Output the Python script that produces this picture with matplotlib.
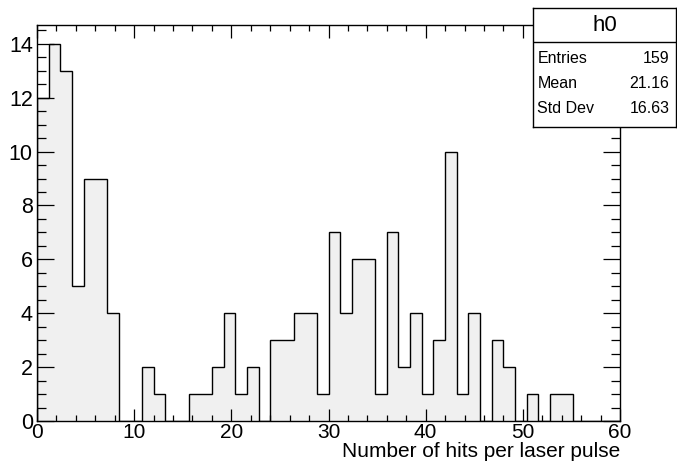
import numpy as np
import matplotlib
matplotlib.use("Agg")
import matplotlib.pyplot as plt
from matplotlib.ticker import MultipleLocator

plt.rcParams["font.family"] = ["Liberation Sans", "DejaVu Sans"]

# 50 bins of width 1.2 between 0 and 60
BIN_EDGES = np.linspace(0, 60, 51)
COUNTS = [12, 14, 13, 5, 9, 9, 4, 0, 0, 2,
          1, 0, 0, 1, 1, 2, 4, 1, 2, 0,
          3, 3, 4, 4, 1, 7, 4, 6, 6, 1,
          7, 2, 4, 1, 3, 10, 1, 4, 0, 3,
          2, 0, 1, 0, 1, 1, 0, 0, 0, 0]
HIST_NAME = "h0"
STATS = [("Entries", "159"), ("Mean", "21.16"), ("Std Dev", "16.63")]
XLABEL = "Number of hits per laser pulse"

W, H = 677, 470
fig = plt.figure(figsize=(W / 100, H / 100), dpi=100)
ax = fig.add_axes([37 / W, 1 - 421 / H, (620 - 37) / W, (421 - 25) / H])

ax.stairs(COUNTS, BIN_EDGES, fill=True, facecolor="#f0f0f0", edgecolor="none")
ax.stairs(COUNTS, BIN_EDGES, fill=False, color="black", linewidth=1.0, baseline=0)

ax.set_xlim(0, 60)
ax.set_ylim(0, 14.7)
ax.xaxis.set_major_locator(MultipleLocator(10))
ax.xaxis.set_minor_locator(MultipleLocator(2))
ax.yaxis.set_major_locator(MultipleLocator(2))
ax.yaxis.set_minor_locator(MultipleLocator(0.5))
ax.tick_params(axis="both", which="both", direction="in", top=True, right=True,
               labelsize=15.5, width=0.9)
ax.tick_params(axis="x", which="major", length=9, pad=1.5, labelsize=15)
ax.tick_params(axis="x", which="minor", length=4.5)
ax.tick_params(axis="y", which="major", length=12.5, pad=3)
ax.tick_params(axis="y", which="minor", length=6.5)
for sp in ax.spines.values():
    sp.set_linewidth(1.0)
ax.set_xlabel(XLABEL, loc="right", fontsize=15, labelpad=0)

# stats box (ROOT style)
bx = fig.add_axes([533 / W, 1 - 127 / H, (676 - 533) / W, (127 - 8) / H])
bx.set_xlim(0, 1); bx.set_ylim(0, 1)
bx.set_xticks([]); bx.set_yticks([])
bx.set_facecolor("white")
for sp in bx.spines.values():
    sp.set_linewidth(1.0)
bx.axhline(0.714, color="black", linewidth=1.0)
bx.text(0.5, 0.857, HIST_NAME, ha="center", va="center", fontsize=16)
for (lab, val), y in zip(STATS, [0.575, 0.362, 0.153]):
    bx.text(0.03, y, lab, ha="left", va="center", fontsize=11.5)
    bx.text(0.955, y, val, ha="right", va="center", fontsize=11.5)

fig.savefig("out.png", dpi=100)
